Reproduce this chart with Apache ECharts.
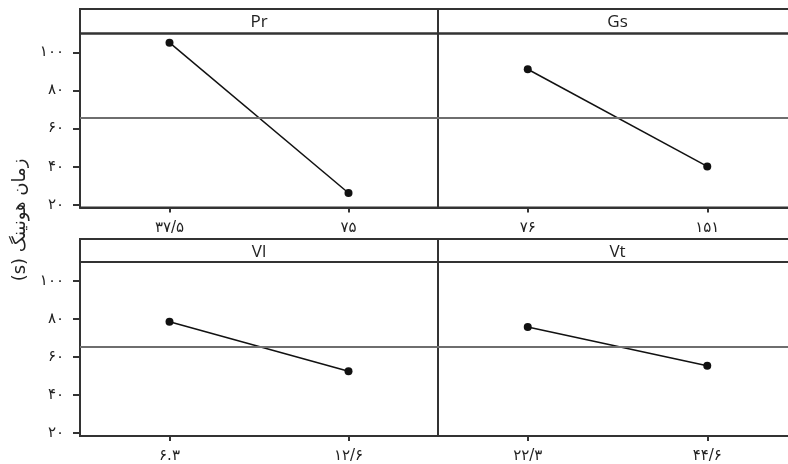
<!DOCTYPE html>
<html>
<head>
<meta charset="utf-8">
<script src="https://cdn.jsdelivr.net/npm/echarts@6/dist/echarts.min.js"></script>
<style>
  html, body { margin: 0; padding: 0; background: #fff; }
  #chart { width: 788px; height: 464px; }
</style>
</head>
<body>
<div id="chart"></div>
<script>
// Main effects of each factor on honing time (s)
const factorNames = ['Pr', 'Gs', 'Vl', 'Vt'];

const prLevels = ['۳۷/۵', '۷۵'];
const gsLevels = ['۷۶', '۱۵۱'];
const vlLevels = ['۶.۳', '۱۲/۶'];
const vtLevels = ['۲۲/۳', '۴۴/۶'];

const prMeans = [105.2, 26.1];
const gsMeans = [91.2, 40.1];
const vlMeans = [78.6, 52.6];
const vtMeans = [75.8, 55.4];

const yTicks = [20, 40, 60, 80, 100];
const yTickLabels = ['۲۰', '۴۰', '۶۰', '۸۰', '۱۰۰'];
const yTitle = 'زمان هونینگ (s)';

const levelSets = [prLevels, gsLevels, vlLevels, vtLevels];
const meanSets = [prMeans, gsMeans, vlMeans, vtMeans];

// grand mean: average over every factor-level mean
const allMeans = [].concat(prMeans, gsMeans, vlMeans, vtMeans);
const grandMean = allMeans.reduce((a, b) => a + b, 0) / allMeans.length;

// panel layout
const W = 788;
const colLeft = [80, 438];
const colWidth = [358, 359];
const headerTop = [9, 239];
const headerH = [24.5, 23];
const plotH = 174;
const lineColor = '#333';
const digitFont = '"DejaVu Sans", sans-serif';

const grids = [], xAxes = [], yAxes = [], series = [], titles = [], graphics = [];

for (let i = 0; i < 4; i++) {
  const row = Math.floor(i / 2), col = i % 2;
  const top = headerTop[row] + headerH[row];
  grids.push({
    left: colLeft[col], top: top, width: colWidth[col], height: plotH,
    outerBoundsMode: 'none', containLabel: false,
    show: true, borderColor: lineColor, borderWidth: 2, backgroundColor: 'transparent'
  });
  xAxes.push({
    type: 'category', gridIndex: i, data: levelSets[i], boundaryGap: true,
    axisLine: { show: true, lineStyle: { color: lineColor, width: 2 } },
    axisTick: { show: true, alignWithLabel: true, length: 5, lineStyle: { color: lineColor, width: 2 } },
    axisLabel: { color: '#222', fontSize: 15, fontFamily: digitFont, margin: 13 },
    splitLine: { show: false }
  });
  yAxes.push({
    type: 'value', gridIndex: i, min: 18.5, max: 110,
    axisLine: { show: col === 0, lineStyle: { color: lineColor, width: 2 } },
    axisTick: { show: col === 0, length: 7, customValues: yTicks, lineStyle: { color: lineColor, width: 2 } },
    axisLabel: {
      show: col === 0, customValues: yTicks, margin: 16, color: '#222', fontSize: 15, fontFamily: digitFont,
      formatter: v => yTickLabels[yTicks.indexOf(v)] || ''
    },
    splitLine: { show: false }
  });
  series.push({
    type: 'line', xAxisIndex: i, yAxisIndex: i, data: meanSets[i],
    symbol: 'circle', symbolSize: 8, animation: false,
    lineStyle: { color: '#111', width: 1.5 },
    itemStyle: { color: '#111' },
    markLine: {
      silent: true, symbol: 'none', label: { show: false },
      lineStyle: { color: '#6e6e6e', width: 2, type: 'solid' },
      data: [{ yAxis: grandMean }]
    }
  });
  titles.push({
    text: factorNames[i],
    left: colLeft[col] + colWidth[col] / 2,
    top: headerTop[row] + 4.5,
    textAlign: 'center',
    padding: 0,
    textStyle: { fontSize: 17, fontWeight: 'normal', color: '#222', fontFamily: '"Open Sans", sans-serif' }
  });
}

// header strips above each row of panels
for (let row = 0; row < 2; row++) {
  graphics.push({
    type: 'rect', silent: true,
    shape: { x: colLeft[0], y: headerTop[row], width: W - colLeft[0] + 20, height: headerH[row] },
    style: { fill: 'none', stroke: lineColor, lineWidth: 2 }
  });
  graphics.push({
    type: 'line', silent: true,
    shape: { x1: colLeft[1], y1: headerTop[row], x2: colLeft[1], y2: headerTop[row] + headerH[row] },
    style: { stroke: lineColor, lineWidth: 2 }
  });
}

// shared vertical axis title, laid out right-to-left
graphics.push({
  type: 'text', silent: true, x: 20, y: 220, rotation: Math.PI / 2,
  style: {
    text: '\u202B' + yTitle + '\u202C', fill: '#222', fontSize: 18, fontFamily: digitFont,
    textAlign: 'center', textVerticalAlign: 'middle'
  }
});

const chart = echarts.init(document.getElementById('chart'), null, { renderer: 'canvas' });
chart.setOption({
  animation: false,
  backgroundColor: '#fff',
  title: titles,
  grid: grids,
  xAxis: xAxes,
  yAxis: yAxes,
  series: series,
  graphic: graphics
});
</script>
</body>
</html>
